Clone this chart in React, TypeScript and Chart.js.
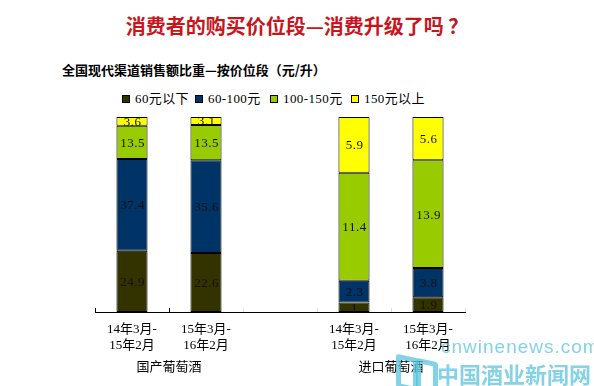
import React, { useEffect, useRef } from "react";
import { Chart, registerables } from "chart.js";

Chart.register(...registerables);

const titleText = "消费者的购买价位段—消费升级了吗 ？";
const subtitleText = "全国现代渠道销售额比重—按价位段（元/升）";

const categories: (string | string[])[] = [
  ["14年3月-", "15年2月"],
  ["15年3月-", "16年2月"],
  "",
  ["14年3月-", "15年2月"],
  ["15年3月-", "16年2月"],
];
const groupLabels = ["国产葡萄酒", "进口葡萄酒"];
const groupPositions = [0.5, 3.5];

const seriesNames = ["60元以下", "60-100元", "100-150元", "150元以上"];
const below60 = [24.9, 22.6, null, 1, 1.9];
const from60to100 = [37.4, 35.6, null, 2.3, 3.8];
const from100to150 = [13.5, 13.5, null, 11.4, 13.9];
const above150 = [3.6, 3.1, null, 5.9, 5.6];
const seriesValues: (number | null)[][] = [below60, from60to100, from100to150, above150];
const seriesColors = ["#333300", "#003366", "#99CC00", "#FFFF00"];
const legendItemWidths = [73, 75, 81, 80];

const serif = '"Liberation Serif", "Noto Sans CJK SC", serif';
const cjkSans = '"Noto Sans CJK SC", "Noto Sans", sans-serif';
const wmColor = "rgba(90,195,220,0.75)";

const totals = categories.map((_, i) =>
  seriesValues.reduce((s, arr) => s + (arr[i] ?? 0), 0)
);

const overlayPlugin = {
  id: "overlay",
  afterDatasetsDraw(chart: any) {
    const ctx = chart.ctx;
    ctx.save();
    ctx.font = "13px " + serif;
    (ctx as any).letterSpacing = "0.5px";
    ctx.fillStyle = "#111";
    ctx.textAlign = "center";
    ctx.textBaseline = "middle";
    chart.data.datasets.forEach((_: any, di: number) => {
      const meta = chart.getDatasetMeta(di);
      meta.data.forEach((el: any, i: number) => {
        const raw = seriesValues[di][i];
        if (raw == null) return;
        const { x, y, base } = el.getProps(["x", "y", "base"], true);
        ctx.fillText(String(raw), x + 0.5, (y + base) / 2 + 1);
      });
    });
    ctx.restore();
  },
  afterDraw(chart: any) {
    const ctx = chart.ctx;
    const xs = chart.scales.x;
    const bottom = chart.chartArea.bottom;
    ctx.save();
    for (let i = 0; i <= categories.length; i++) {
      const px = Math.round(xs.getPixelForValue(i - 0.5)) + 0.5;
      ctx.strokeStyle = i <= 1 ? "#000" : "#dddddd";
      ctx.lineWidth = 1;
      ctx.beginPath();
      ctx.moveTo(px, bottom);
      ctx.lineTo(px, bottom - 4);
      ctx.stroke();
    }
    ctx.font = "13px " + serif;
    ctx.fillStyle = "#000";
    ctx.textAlign = "center";
    ctx.textBaseline = "middle";
    groupLabels.forEach((g, k) => {
      ctx.fillText(g, xs.getPixelForValue(groupPositions[k]), bottom + 56);
    });
    ctx.restore();
  },
};

export default function App() {
  const canvasRef = useRef<HTMLCanvasElement | null>(null);

  useEffect(() => {
    if (!canvasRef.current) return;
    const chart = new Chart(canvasRef.current, {
      type: "bar",
      data: {
        labels: categories,
        datasets: seriesValues.map((arr, di) => ({
          label: seriesNames[di],
          data: arr.map((v, i) => (v == null ? null : (v / totals[i]) * 100)),
          backgroundColor: seriesColors[di],
          borderColor: "#000",
          borderWidth: 1,
          borderSkipped: false,
          categoryPercentage: 1,
          barPercentage: 0.42,
        })),
      },
      options: {
        responsive: false,
        animation: false,
        layout: { padding: { top: 117, left: 95, right: 129, bottom: 0 } },
        plugins: {
          legend: { display: false },
          tooltip: { enabled: false },
          title: { display: false },
        },
        scales: {
          x: {
            stacked: true,
            afterFit: (scale: any) => {
              scale.height = 74;
            },
            grid: { display: true, drawOnChartArea: false, drawTicks: false },
            border: { display: true, color: "#000", width: 1 },
            ticks: {
              color: "#000",
              padding: 9,
              maxRotation: 0,
              autoSkip: false,
              font: { family: serif, size: 13, lineHeight: 1.25 },
            },
          },
          y: {
            stacked: true,
            display: false,
            min: 0,
            max: 100,
          },
        },
      },
      plugins: [overlayPlugin],
    });
    return () => chart.destroy();
  }, []);

  return (
    <div style={{ position: "absolute", left: 0, top: 0, width: 594, height: 386, background: "#fff", overflow: "hidden" }}>
      <div
        style={{
          position: "absolute",
          top: 12,
          left: 0,
          width: 594,
          textAlign: "center",
          font: "bold 20px " + cjkSans,
          lineHeight: "28px",
          color: "#C8141C",
          whiteSpace: "nowrap",
        }}
      >
        {titleText}
      </div>
      <div
        style={{
          position: "absolute",
          top: 61,
          left: 62,
          font: "bold 13px " + cjkSans,
          lineHeight: "18px",
          color: "#000",
          whiteSpace: "nowrap",
        }}
      >
        {subtitleText}
      </div>
      <div
        style={{
          position: "absolute",
          top: 91,
          left: 122,
          display: "flex",
          alignItems: "center",
          font: "13px " + serif,
          lineHeight: "16px",
          color: "#000",
          whiteSpace: "nowrap",
        }}
      >
        {seriesNames.map((n, i) => (
          <span key={n} style={{ display: "flex", alignItems: "center", width: legendItemWidths[i] }}>
            <span
              style={{
                display: "inline-block",
                width: 6,
                height: 6,
                border: "1px solid #000",
                background: seriesColors[i],
                marginRight: 5,
              }}
            />
            <span style={{ letterSpacing: "0.4px" }}>{n}</span>
          </span>
        ))}
      </div>
      <canvas
        ref={canvasRef}
        width={594}
        height={386}
        style={{ position: "absolute", left: 0, top: 0, width: 594, height: 386 }}
      />
      <div
        style={{
          position: "absolute",
          left: 441,
          top: 336,
          font: "19px " + '"Liberation Sans", "Noto Sans", sans-serif',
          letterSpacing: "1px",
          color: wmColor,
          whiteSpace: "nowrap",
          pointerEvents: "none",
        }}
      >
        cnwinenews.com
      </div>
      <div
        style={{
          position: "absolute",
          left: 437,
          top: 359,
          font: "bold 22px " + cjkSans,
          lineHeight: "28px",
          color: wmColor,
          whiteSpace: "nowrap",
          pointerEvents: "none",
        }}
      >
        中国酒业新闻网
      </div>
      <div
        style={{
          position: "absolute",
          left: 396,
          top: 356,
          width: 12,
          height: 24,
          border: "5px solid " + wmColor,
          borderRadius: 3,
          transform: "skewY(12deg)",
          pointerEvents: "none",
        }}
      />
      <div
        style={{
          position: "absolute",
          left: 416,
          top: 360,
          width: 12,
          height: 24,
          border: "5px solid " + wmColor,
          borderRadius: 3,
          transform: "skewY(12deg)",
          pointerEvents: "none",
        }}
      />
    </div>
  );
}
